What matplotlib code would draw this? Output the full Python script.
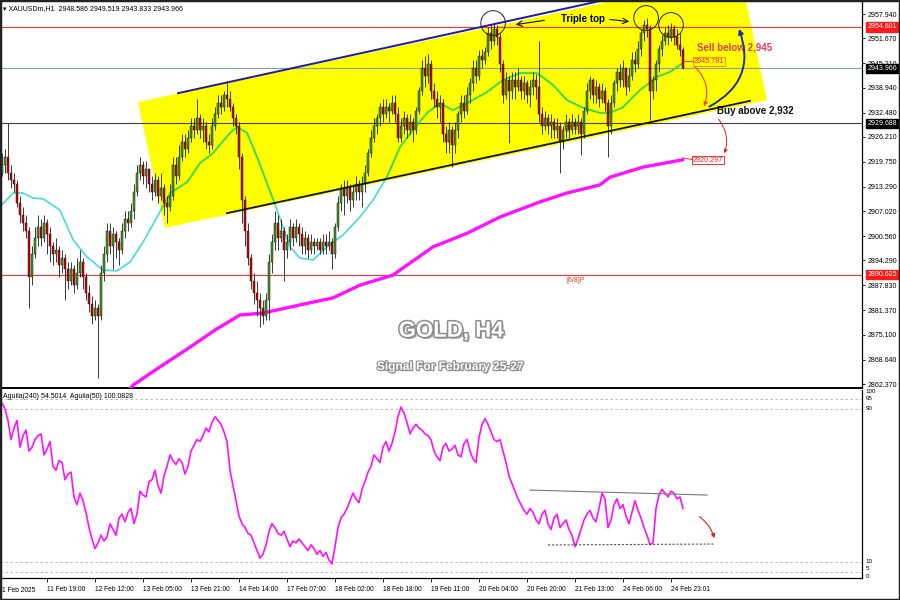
import matplotlib
matplotlib.use("Agg")
import matplotlib.pyplot as plt
import matplotlib.patheffects as pe
from matplotlib.patches import Polygon, Ellipse, Rectangle, FancyArrowPatch
import numpy as np

plt.rcParams['font.family'] = ['Liberation Sans', 'DejaVu Sans']

# 1. Data
first_open = 2917.0
closes = [
    2919, 2921, 2917, 2915, 2914, 2909, 2906, 2904, 2902, 2890,
    2896, 2900, 2903, 2900, 2904, 2901, 2898, 2896, 2897, 2893,
    2895, 2892, 2889, 2892, 2888, 2891, 2894, 2890, 2886, 2883,
    2880, 2882, 2880, 2891, 2896, 2902, 2898, 2901, 2899, 2897,
    2902, 2905, 2904, 2907, 2912, 2917, 2919, 2916, 2918, 2914,
    2912, 2915, 2911, 2913, 2909, 2908, 2911, 2919, 2916, 2921,
    2925, 2923, 2926, 2929, 2928, 2931, 2928, 2929, 2925, 2924,
    2929, 2932, 2935, 2934, 2937, 2936, 2934, 2931, 2929, 2921,
    2910, 2902, 2895, 2889, 2886, 2884, 2882, 2880, 2884, 2894,
    2899, 2904, 2900, 2902, 2897, 2899, 2903, 2900, 2903, 2901,
    2898, 2900, 2897, 2899, 2898, 2899, 2897, 2899, 2898, 2899,
    2896, 2903, 2909, 2913, 2911, 2913, 2910, 2912, 2914, 2912,
    2914, 2917, 2922, 2926, 2929, 2931, 2934, 2932, 2934, 2933,
    2935, 2932, 2926, 2929, 2931, 2928, 2930, 2928, 2933, 2938,
    2944, 2942, 2945, 2938, 2936, 2934, 2935, 2927, 2925, 2928,
    2924, 2928, 2932, 2935, 2933, 2937, 2940, 2944, 2942, 2947,
    2946, 2948, 2953, 2951, 2954, 2952, 2945, 2937, 2941, 2938,
    2941, 2939, 2941, 2938, 2940, 2937, 2939, 2941, 2939, 2932,
    2929, 2931, 2929, 2930, 2928, 2929, 2925, 2928, 2930, 2928,
    2930, 2929, 2930, 2927, 2933, 2938, 2941, 2937, 2939, 2936,
    2938, 2935, 2929, 2935, 2940, 2943, 2941, 2944, 2939, 2942,
    2946, 2945, 2949, 2953, 2955, 2954, 2938, 2941, 2945, 2949,
    2951, 2953, 2952, 2954, 2952, 2950, 2948.586, 2943.966,
]
highs = [
    2922, 2923, 2929.7, 2919, 2917, 2915, 2911, 2908, 2906, 2903,
    2898, 2903, 2906, 2905, 2906, 2905, 2903, 2899, 2900, 2898,
    2897, 2896, 2894, 2894, 2893, 2895, 2897, 2895, 2891, 2888,
    2885, 2884, 2883, 2893, 2898, 2904, 2904, 2903, 2902, 2900,
    2904, 2907, 2907, 2909, 2914, 2919, 2921, 2920, 2920, 2918,
    2916, 2917, 2916, 2917, 2914, 2911, 2914, 2921, 2921, 2924,
    2927, 2927, 2928, 2931, 2931, 2936, 2932, 2931, 2930, 2927,
    2931, 2934, 2937, 2937, 2938, 2940, 2938, 2935, 2932, 2930,
    2922, 2911, 2904, 2896, 2891, 2889, 2886, 2884, 2886, 2896,
    2901, 2907, 2906, 2905, 2903, 2901, 2905, 2904, 2905, 2904,
    2903, 2902, 2901, 2901, 2900, 2900, 2900, 2901, 2901, 2902,
    2900, 2904, 2911, 2914, 2915, 2915, 2914, 2914, 2916, 2915,
    2916, 2919, 2923, 2928, 2931, 2932, 2935, 2936, 2936, 2935,
    2937, 2937, 2934, 2931, 2933, 2932, 2932, 2931, 2934, 2939,
    2946, 2947, 2947.5, 2946, 2940, 2938, 2937, 2936, 2929, 2930,
    2929, 2930, 2933, 2937, 2937, 2939, 2941.5, 2946, 2946, 2948.6,
    2949, 2949.5, 2954.5, 2955, 2955.3, 2955, 2953, 2946, 2943, 2942,
    2943, 2943, 2944, 2942, 2942, 2941, 2941, 2943, 2942.5, 2951,
    2934, 2933, 2932, 2932, 2931, 2931, 2930, 2929, 2932, 2931,
    2932, 2931, 2932, 2931, 2934, 2940, 2942, 2941.5, 2941, 2940,
    2940, 2939, 2936, 2937, 2941, 2944, 2945, 2946, 2944, 2944,
    2948, 2948.5, 2951, 2954, 2956.5, 2957, 2955, 2942, 2946, 2950,
    2952.5, 2954.5, 2955, 2955.5, 2955, 2954, 2953, 2949.519,
]
lows = [
    2916, 2917, 2915, 2913, 2912, 2908, 2904, 2902, 2900, 2882,
    2888, 2895, 2898, 2898, 2899, 2896, 2894, 2893, 2894, 2890,
    2891, 2884, 2887, 2888, 2886, 2887, 2890, 2887, 2884, 2881,
    2878, 2879, 2864, 2879, 2889, 2894, 2896, 2892, 2895, 2893,
    2896, 2900, 2902, 2903, 2905, 2911, 2915, 2914, 2913, 2912,
    2910, 2911, 2909, 2910, 2906, 2904, 2907, 2910, 2914, 2915,
    2920, 2921, 2922, 2925, 2926, 2927, 2926, 2925, 2923, 2922,
    2923, 2928, 2931, 2932, 2933, 2934, 2933, 2929, 2927, 2918,
    2904, 2898, 2893, 2887, 2883, 2880, 2877, 2878, 2879, 2879,
    2891, 2897, 2897, 2899, 2889, 2895, 2897, 2898, 2899, 2898,
    2896, 2896, 2895, 2896, 2896, 2897, 2896, 2896, 2896, 2897,
    2892, 2895, 2902, 2907, 2906, 2909, 2907, 2908, 2910, 2910,
    2908, 2912, 2916, 2921, 2925, 2927, 2929, 2930, 2931, 2930,
    2932, 2930, 2925, 2925, 2927, 2926, 2927, 2925, 2927, 2932,
    2937, 2939, 2940, 2936, 2934, 2931, 2930, 2925, 2922, 2922,
    2918.5, 2922, 2926, 2930, 2931, 2932, 2935, 2938, 2940, 2941,
    2944, 2945, 2947, 2949, 2950, 2950, 2943, 2935, 2936, 2924.5,
    2936, 2936, 2938, 2936, 2936, 2935, 2934, 2937, 2936, 2930,
    2927, 2928, 2927, 2926, 2926, 2926, 2917, 2923, 2926, 2926,
    2927, 2927, 2927, 2921.5, 2926, 2932, 2936, 2935, 2935, 2934,
    2935, 2933, 2921, 2927, 2934, 2938, 2939, 2939, 2937, 2938,
    2941, 2943, 2944, 2947, 2951, 2952, 2930.5, 2936, 2938, 2943,
    2947, 2950, 2950, 2951, 2950, 2949, 2947, 2943.833,
]

# fast moving average (turquoise), read at a few bars
ma_fast_bar = [-0.7, 3.7, 7, 10.3, 13.7, 19.3, 23.7, 28.3, 33.7, 38.3, 42.7, 47, 51.7, 56,
               61.7, 66, 70.3, 76, 78.3, 81.7, 85, 88.3, 91.7, 96, 99.3, 103.7, 108.3,
               113.7, 119.3, 123.7, 128.3, 132.7, 137, 141.7, 146, 150.3, 155, 161.7,
               167, 172.7, 178.3, 183.7, 188.3, 193.7, 199.3, 202.7, 207, 212.7, 218.3,
               222.7, 227]
ma_fast_val = [2908.1, 2911.7, 2911.7, 2910.4, 2910.2, 2907.3, 2899.6, 2895.2, 2891.8,
               2891.6, 2893.9, 2899.0, 2905.5, 2911.7, 2914.5, 2919.4, 2922.0, 2927.2,
               2928.8, 2927.2, 2921.0, 2914.3, 2907.3, 2897.8, 2894.9, 2894.4, 2897.8,
               2900.9, 2905.5, 2909.9, 2915.8, 2923.6, 2928.0, 2932.4, 2934.9, 2933.1,
               2934.9, 2937.8, 2940.9, 2942.7, 2942.7, 2939.6, 2935.7, 2933.7, 2932.4,
               2932.4, 2933.9, 2938.3, 2941.7, 2943.0, 2945.3]

# slow moving average (magenta)
ma_slow_bar = [41, 43.7, 52.7, 62.7, 71, 79.3, 82.7, 87, 99.3, 110.3, 119.3, 130.3,
               143.7, 155, 166, 179.3, 188.3, 199.3, 202.7, 213.7, 227]
ma_slow_val = [2859.5, 2862.1, 2866.8, 2871.9, 2876.3, 2880.2, 2880.4, 2880.7, 2882.8,
               2884.6, 2887.9, 2890.5, 2897.8, 2901.3, 2905.5, 2909.4, 2911.7, 2913.8,
               2915.8, 2918.4, 2920.3]

# Aguila oscillator
aguila = [
    93, 90, 84, 74, 80, 84, 70, 76, 79, 68,
    70, 74, 76, 77, 66, 69, 73, 60, 58, 63,
    62, 53, 56, 57, 44, 40, 46, 42, 36, 28,
    22, 17, 20, 24, 21, 23, 30, 27, 24, 33,
    35, 31, 36, 38, 30, 35, 47, 45, 44, 52,
    53, 58, 50, 46, 55, 60, 66, 63, 61, 64,
    62, 56, 60, 68, 71, 74, 73, 76, 80, 78,
    83, 86, 84, 82, 78, 73, 58, 50, 42, 34,
    30, 28, 25, 24, 20, 16, 12, 14, 19, 26,
    30, 28, 25, 24, 26, 22, 18, 21, 20, 22,
    20, 18, 16, 19, 17, 14, 16, 13, 15, 11,
    9, 18, 28, 33, 35, 38, 42, 46, 43, 41,
    48, 52, 57, 60, 66, 64, 62, 70, 73, 68,
    72, 78, 86, 91, 88, 83, 77, 80, 82, 80,
    79, 77, 76, 74, 68, 65, 63, 70, 72, 68,
    69, 71, 66, 65, 72, 74, 68, 64, 62, 75,
    82, 85, 82, 78, 74, 73, 74, 68, 62, 55,
    51, 47, 43, 40, 37, 35, 38, 36, 32, 30,
    35, 37, 30, 27, 33, 35, 28, 30, 32, 27,
    24, 18, 22, 27, 32, 35, 37, 33, 31, 38,
    46, 43, 28, 32, 40, 43, 38, 40, 34, 30,
    36, 42, 37, 33, 28, 24, 19, 20, 38, 45,
    48, 46, 44, 47, 46, 43, 44, 38,
]

price_ticks = [2957.940, 2951.670, 2945.210, 2938.940, 2932.480, 2926.210, 2919.750,
               2913.290, 2907.020, 2900.560, 2894.290, 2887.830, 2881.370, 2875.100,
               2868.640, 2862.370]
time_labels = ["11 Feb 19:00", "12 Feb 12:00", "13 Feb 05:00", "13 Feb 21:00",
               "14 Feb 14:00", "17 Feb 07:00", "18 Feb 02:00", "18 Feb 18:00",
               "19 Feb 11:00", "20 Feb 04:00", "20 Feb 20:00", "21 Feb 13:00",
               "24 Feb 06:00", "24 Feb 23:01"]
red_levels = [2954.601, 2890.625]
bid_level = 2943.966
mid_level = 2929.688

# 2. Layout
fig = plt.figure(figsize=(9, 6), dpi=100)
fig.patch.set_facecolor('white')
ax = fig.add_axes([0, 212 / 600, 862 / 900, 388 / 600])
ax2 = fig.add_axes([0, 22 / 600, 862 / 900, 188 / 600])

n = len(closes)
bars = np.arange(n)
c = np.array(closes, dtype=float)
o = np.array([first_open] + closes[:-1], dtype=float)
h = np.array(highs, dtype=float)
l = np.array(lows, dtype=float)

ax.set_xlim(-2 / 3, 860 / 3)
ax.set_ylim(2861.34, 2961.56)
ax2.set_xlim(-2 / 3, 860 / 3)
ax2.set_ylim(1.63, 99.93)

# yellow channel box
channel = Polygon([(45.3, 2935.2), (54.3, 2902.7), (255, 2935.7), (246, 2968.3)],
                  closed=True, facecolor='#ffff00', edgecolor='none', zorder=1)
ax.add_patch(channel)

# horizontal levels
for lv in red_levels:
    ax.axhline(lv, color='#ff3030', lw=0.8, zorder=2)
ax.axhline(bid_level, color='#8a9bb0', lw=0.8, zorder=2)
ax.axhline(mid_level, color='#404040', lw=0.8, zorder=2)

# channel lines
ax.plot([58.7, 230], [2937.5, 2966.5], color='#1c1ca8', lw=1.4, zorder=6)
ax.plot([75, 249.3], [2906.5, 2935.5], color='#111111', lw=1.3, zorder=6)

# moving averages
ax.plot(ma_slow_bar, ma_slow_val, color='#ff10ff', lw=2.4, zorder=3, solid_capstyle='round')
ax.plot(ma_fast_bar, ma_fast_val, color='#45dcd2', lw=1.2, zorder=3)
inside, = ax.plot(ma_fast_bar, ma_fast_val, color='#3fdc3f', lw=1.2, zorder=3.1)
inside.set_clip_path(channel)

# 3. Candles
up = c >= o
ax.vlines(bars, l, h, color='#1a1a1a', lw=0.6, zorder=4)
ax.bar(bars[up], (c - o)[up], bottom=o[up], width=0.66, color='#3f9a1c',
       edgecolor='#1a1a1a', lw=0.35, zorder=5)
ax.bar(bars[~up], (o - c)[~up], bottom=c[~up], width=0.66, color='#c80000',
       edgecolor='#1a1a1a', lw=0.35, zorder=5)

# 4. Annotations
for (cx, cy) in [(163.7, 2955.6), (214.7, 2956.9), (223, 2955.1)]:
    ax.add_patch(Ellipse((cx, cy), width=8.2, height=6.4, fill=False, ec='#222222',
                         lw=0.7, zorder=7))
ax.text(193.7, 2956.6, "Triple top", fontsize=7, fontweight='bold', ha='center',
        va='center', zorder=8)
ax.annotate("", xy=(170.3, 2955.1), xytext=(181.7, 2956.4),
            arrowprops=dict(arrowstyle='->', color='#111111', lw=0.8), zorder=8)
ax.annotate("", xy=(210, 2955.9), xytext=(201.7, 2956.6),
            arrowprops=dict(arrowstyle='->', color='#111111', lw=0.8), zorder=8)

ax.text(231.7, 2949.2, "Sell below 2,945", fontsize=7, fontweight='bold',
        color='#e8365e', va='center', zorder=8)
ax.text(230.6, 2945.6, "2945.781", fontsize=5.2, color='#ff2020', va='center', zorder=8,
        bbox=dict(facecolor='none', edgecolor='#ff8c00', lw=0.7, pad=0.6))
ax.plot([227, 230.3], [2945.7, 2945.7], color='#ff3030', lw=0.7, zorder=8)
ax.text(238.3, 2932.9, "Buy above 2,932", fontsize=7, fontweight='bold',
        color='#111111', va='center', zorder=8)
ax.text(230.3, 2920.2, "2920.297", fontsize=5.2, color='#ff2020', va='center', zorder=8,
        bbox=dict(facecolor='none', edgecolor='#ff3030', lw=0.7, pad=0.6))
ax.plot([227, 230.3], [2920.8, 2920.3], color='#ff3030', lw=0.7, zorder=8)

ax.add_patch(FancyArrowPatch((230.3, 2944.8), (233.7, 2933.4),
                             connectionstyle='arc3,rad=-0.35', arrowstyle='-|>',
                             mutation_scale=6, color='#ff4a20', lw=0.9, zorder=8))
ax.add_patch(FancyArrowPatch((235, 2933.7), (245.3, 2954.8),
                             connectionstyle='arc3,rad=0.45', arrowstyle='-|>',
                             mutation_scale=7, color='#1f2fa8', lw=1.4, zorder=8))
ax.add_patch(FancyArrowPatch((238.3, 2931.3), (240.5, 2921.3),
                             connectionstyle='arc3,rad=-0.3', arrowstyle='-|>',
                             mutation_scale=5, color='#e02020', lw=0.7, zorder=8))

ax.text(188.3, 2889.2, "[6/8]P", fontsize=5, color='#ff3030', va='center', zorder=8)
ax.text(188.3, 2928.3, "[7/8]P", fontsize=5, color='#444444', va='center', zorder=3.5)

glow = [pe.SimplePatchShadow(offset=(1.5, -1.5), shadow_rgbFace='#555555', alpha=0.5),
        pe.Stroke(linewidth=2.2, foreground='#8c8c8c'), pe.Normal()]
ax.text(149.7, 2876.0, "GOLD, H4", fontsize=16, fontweight='bold', color='white',
        ha='center', va='center', zorder=8, path_effects=glow)
ax.text(149.3, 2866.8, "Signal For February 25-27", fontsize=8.6, fontweight='bold',
        color='white', ha='center', va='center', zorder=8,
        path_effects=[pe.SimplePatchShadow(offset=(1, -1), shadow_rgbFace='#555555', alpha=0.5),
                      pe.Stroke(linewidth=1.6, foreground='#8c8c8c'), pe.Normal()])

ax.text(0.003, 0.978, "\u25be XAUUSDm,H1  2948.586 2949.519 2943.833 2943.966",
        transform=ax.transAxes, fontsize=5, va='center', zorder=9)

# price axis
ax.yaxis.tick_right()
ax.set_yticks(price_ticks)
ax.set_yticklabels([f"{t:.3f}" for t in price_ticks])
ax.tick_params(axis='y', direction='out', length=2.5, width=0.6, pad=1.5, labelsize=5)
ax.tick_params(axis='x', bottom=False, labelbottom=False)
ytr = ax.get_yaxis_transform()
for lv, face in [(red_levels[0], '#ff1a1a'), (bid_level, '#000000'),
                 (mid_level, '#000000'), (red_levels[1], '#ff1a1a')]:
    ax.text(1.006, lv, f"{lv:.3f}", transform=ytr, fontsize=5, color='white',
            va='center', ha='left', zorder=10, clip_on=False,
            bbox=dict(facecolor=face, edgecolor=face, pad=0.8))
for side in ['top', 'left']:
    ax.spines[side].set_visible(False)
ax.spines['right'].set_linewidth(0.9)
ax.spines['bottom'].set_linewidth(1.4)

# 5. Aguila panel
ax2.plot(bars, aguila, color='#ff10ff', lw=1.2, zorder=3)
for lv in [95, 90, 10, 5]:
    ax2.axhline(lv, color='#b0b0b0', lw=0.6, ls=(0, (3, 3)), zorder=1)
ax2.plot([176, 235], [47.6, 45.0], color='#777777', lw=0.8, zorder=4)
ax2.plot([182, 237.7], [18.9, 19.4], color='#555555', lw=0.8, ls=(0, (2, 1.5)), zorder=4)
ax2.add_patch(FancyArrowPatch((231.7, 34.6), (237.7, 21.0),
                              connectionstyle='arc3,rad=-0.2', arrowstyle='-|>',
                              mutation_scale=6, color='#e02020', lw=0.8, zorder=5))
ax2.text(0.003, 0.965, "Aguila(240) 54.5014  Aguila(50) 100.0828",
         transform=ax2.transAxes, fontsize=5, va='center')

ytr2 = ax2.get_yaxis_transform()
for val, lab in [(99.3, "100"), (95.3, "95"), (90, "90"), (10, "10"), (6.8, "5"), (2.2, "0")]:
    ax2.text(1.004, val, lab, transform=ytr2, fontsize=4.5, va='center', ha='left',
             clip_on=False)
ax2.set_yticks([])
ax2.set_xticks(range(15, n, 16))
ax2.set_xticklabels(time_labels)
for lbl in ax2.get_xticklabels():
    lbl.set_horizontalalignment('left')
ax2.tick_params(axis='x', direction='out', length=3, width=0.6, pad=2.5, labelsize=4.8)
ax2.text(0, -0.05, "1 Feb 2025", transform=ax2.get_xaxis_transform(), fontsize=4.8,
         ha='left', va='top', clip_on=False)
for side in ['top', 'left']:
    ax2.spines[side].set_visible(False)
ax2.spines['right'].set_linewidth(0.9)
ax2.spines['bottom'].set_linewidth(0.9)

fig.add_artist(Rectangle((0, 0), 1, 1, transform=fig.transFigure, fill=False,
                         ec='#222222', lw=2.5))

plt.savefig("out.png", dpi=100)
